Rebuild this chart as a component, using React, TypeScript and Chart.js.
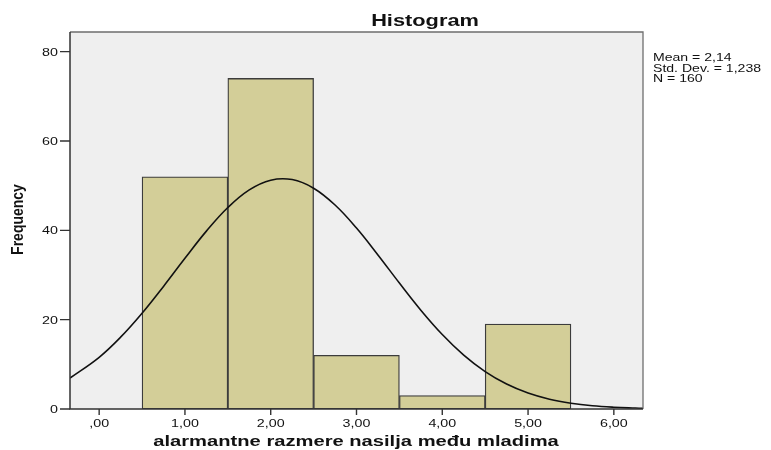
import React, { useEffect, useRef } from "react";
import { Chart, registerables } from "chart.js";

Chart.register(...registerables);

// ---- data ----
const binCenters = [1, 2, 3, 4, 5];
const frequencies = [52, 74, 12, 3, 19];

const curveX = [-0.34, 0, 0.25, 0.5, 0.75, 1, 1.25, 1.5, 1.75, 2, 2.25, 2.5, 2.75, 3, 3.25, 3.5, 3.75, 4, 4.25, 4.5, 4.75, 5, 5.25, 5.5, 5.75, 6, 6.25, 6.34];
const curveY = [6.93, 11.58, 16.08, 21.44, 27.45, 33.74, 39.82, 45.11, 49.06, 51.23, 51.36, 49.43, 45.67, 40.51, 34.49, 28.2, 22.13, 16.68, 12.07, 8.38, 5.59, 3.58, 2.2, 1.3, 0.73, 0.4, 0.21, 0.16];

const xTickValues = [0, 1, 2, 3, 4, 5, 6];
const xTickLabels = [",00", "1,00", "2,00", "3,00", "4,00", "5,00", "6,00"];
const yTickValues = [0, 20, 40, 60, 80];
const yTickLabels = ["0", "20", "40", "60", "80"];

const titleText = "Histogram";
const xAxisTitle = "alarmantne razmere nasilja među mladima";
const yAxisTitle = "Frequency";
const statsLines = ["Mean = 2,14", "Std. Dev. = 1,238", "N = 160"];

const FONT = '"Liberation Sans", Arial, sans-serif';

function drawText(
  ctx: CanvasRenderingContext2D,
  text: string,
  x: number,
  y: number,
  font: string,
  sx: number,
  align: "left" | "center" | "right",
  color = "#000"
) {
  ctx.save();
  ctx.font = font;
  ctx.fillStyle = color;
  ctx.textBaseline = "alphabetic";
  ctx.textAlign = "left";
  const w = ctx.measureText(text).width * sx;
  const x0 = align === "center" ? x - w / 2 : align === "right" ? x - w : x;
  ctx.translate(x0, y);
  ctx.scale(sx, 1);
  ctx.fillText(text, 0, 0);
  ctx.restore();
}

const spssPlugin = {
  id: "spssDecor",
  beforeDatasetsDraw(chart: any) {
    const { ctx, chartArea: a } = chart;
    ctx.save();
    ctx.fillStyle = "#EFEFEF";
    ctx.fillRect(a.left, a.top, a.right - a.left, a.bottom - a.top);
    ctx.restore();
  },
  afterDatasetsDraw(chart: any) {
    const { ctx, chartArea: a } = chart;
    const xs = chart.scales.x;
    const ys = chart.scales.y;
    ctx.save();
    // top & right frame
    ctx.strokeStyle = "#6e6e6e";
    ctx.lineWidth = 1.3;
    ctx.beginPath();
    ctx.moveTo(a.left, a.top);
    ctx.lineTo(a.right, a.top);
    ctx.lineTo(a.right, a.bottom);
    ctx.stroke();
    // left & bottom axes
    ctx.strokeStyle = "#333";
    ctx.lineWidth = 1.5;
    ctx.beginPath();
    ctx.moveTo(a.left, a.top);
    ctx.lineTo(a.left, a.bottom);
    ctx.lineTo(a.right, a.bottom);
    ctx.stroke();
    // ticks
    ctx.lineWidth = 1.4;
    ctx.beginPath();
    xTickValues.forEach((v) => {
      const px = xs.getPixelForValue(v);
      ctx.moveTo(px, a.bottom);
      ctx.lineTo(px, a.bottom + 6);
    });
    yTickValues.forEach((v) => {
      const py = ys.getPixelForValue(v);
      ctx.moveTo(a.left - 10, py);
      ctx.lineTo(a.left, py);
    });
    ctx.stroke();
    ctx.restore();

    // tick labels
    xTickValues.forEach((v, i) => {
      drawText(ctx, xTickLabels[i], xs.getPixelForValue(v), a.bottom + 17.5, `10.5px ${FONT}`, 1.36, "center", "#111");
    });
    yTickValues.forEach((v, i) => {
      drawText(ctx, yTickLabels[i], a.left - 12, ys.getPixelForValue(v) + 4, `11px ${FONT}`, 1.3, "right", "#111");
    });

    // titles
    drawText(ctx, titleText, 425, 26, `bold 16.5px ${FONT}`, 1.32, "center", "#111");
    drawText(ctx, xAxisTitle, 356, 445.5, `bold 14.5px ${FONT}`, 1.39, "center", "#111");

    // y title rotated
    ctx.save();
    ctx.font = `bold 14px ${FONT}`;
    ctx.fillStyle = "#111";
    const w = ctx.measureText(yAxisTitle).width;
    ctx.translate(23, 219.5);
    ctx.rotate(-Math.PI / 2);
    ctx.scale(1, 1.2);
    ctx.fillText(yAxisTitle, -w / 2, 0);
    ctx.restore();

    // stats
    statsLines.forEach((s, i) => {
      drawText(ctx, s, 653, 61 + i * 10.7, `10.5px ${FONT}`, 1.34, "left", "#111");
    });
  },
};

export default function App() {
  const ref = useRef<HTMLCanvasElement | null>(null);
  useEffect(() => {
    if (!ref.current) return;
    const chart = new Chart(ref.current, {
      type: "bar",
      data: {
        datasets: [
          {
            type: "line",
            label: "Normal",
            data: curveX.map((x, i) => ({ x, y: curveY[i] })),
            borderColor: "#111",
            borderWidth: 1.6,
            pointRadius: 0,
            fill: false,
            tension: 0.4,
            order: 0,
          } as any,
          {
            type: "bar",
            label: "Frequency",
            data: binCenters.map((x, i) => ({ x, y: frequencies[i] })),
            backgroundColor: "#D3CE98",
            borderColor: "#3c3c3c",
            borderWidth: 1.3,
            borderSkipped: false,
            barPercentage: 1,
            categoryPercentage: 1,
            order: 1,
          } as any,
        ],
      },
      options: {
        responsive: false,
        animation: false,
        devicePixelRatio: 1,
        layout: { padding: { left: 70, top: 32, right: 128, bottom: 41 } },
        plugins: {
          legend: { display: false },
          tooltip: { enabled: false },
          title: { display: false },
        },
        scales: {
          x: {
            type: "linear",
            display: false,
            min: -0.34,
            max: 6.34,
            offset: false,
            ticks: { stepSize: 1, includeBounds: false },
          },
          y: {
            type: "linear",
            display: false,
            min: 0,
            max: 84.4,
          },
        },
      },
      plugins: [spssPlugin],
    });
    return () => chart.destroy();
  }, []);
  return (
    <div style={{ position: "fixed", left: 0, top: 0, width: 771, height: 450, background: "#fff" }}>
      <canvas ref={ref} width={771} height={450} style={{ display: "block" }} />
    </div>
  );
}
